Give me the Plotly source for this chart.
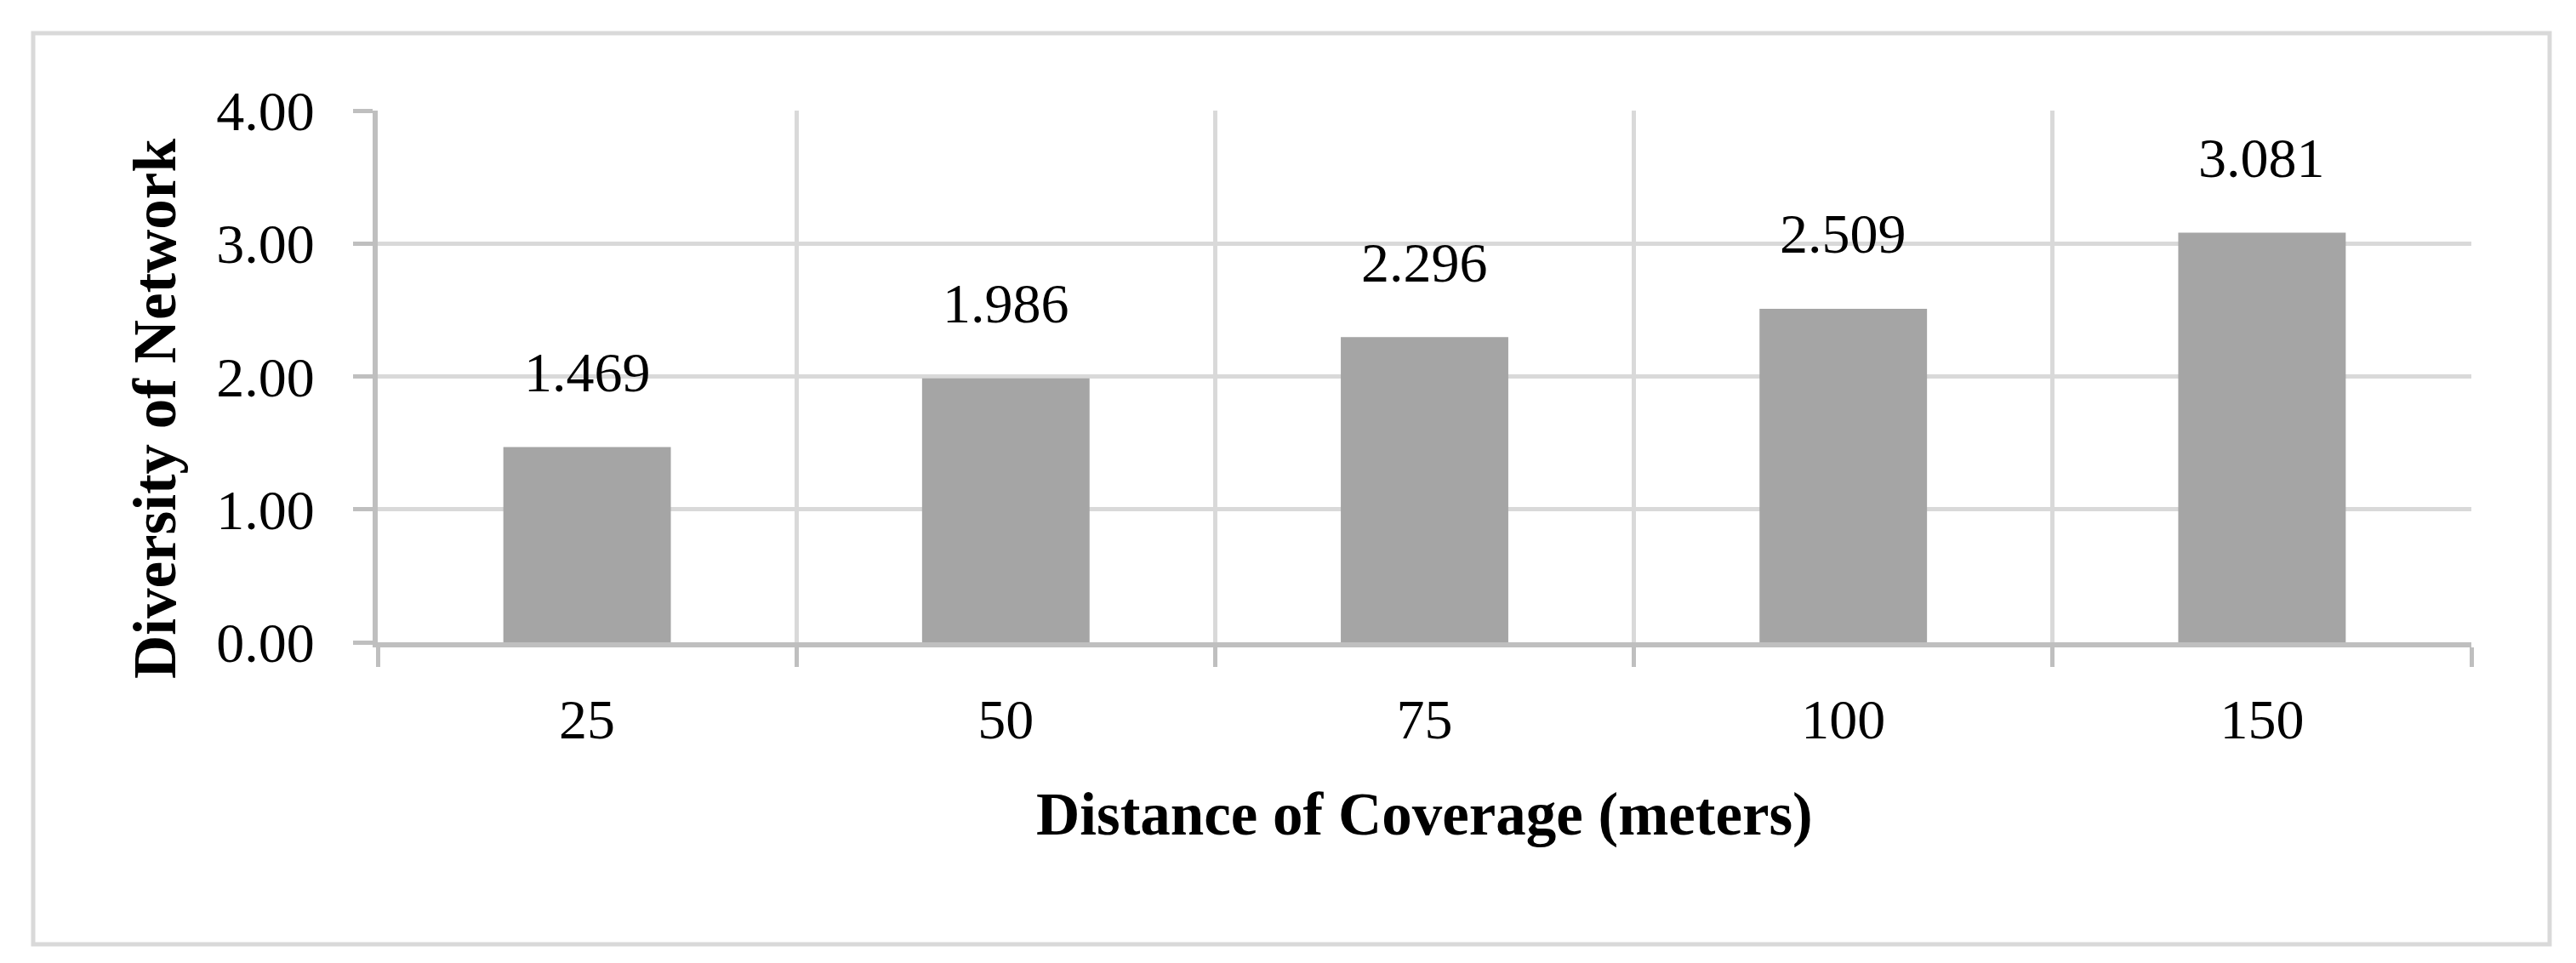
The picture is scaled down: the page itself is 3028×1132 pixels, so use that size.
import plotly.graph_objects as go

categories = ["25", "50", "75", "100", "150"]
diversity = [1.469, 1.986, 2.296, 2.509, 3.081]
y_ticks = [0, 1, 2, 3, 4]
y_tick_labels = ["0.00", "1.00", "2.00", "3.00", "4.00"]

W, H = 3028, 1132
L, R, T, B = 436, 131, 122, 385
FONT = "Liberation Serif"
GRID = "#d9d9d9"
AXIS = "#bfbfbf"
TICK_FS = 66
TITLE_FS = 71

pw = W - L - R
ph = H - T - B
def px_x(p):
    return (p - L) / pw
def px_y(p):
    return (H - B - p) / ph

xpos = list(range(len(categories)))

fig = go.Figure()
fig.add_trace(go.Bar(
    x=xpos, y=diversity,
    marker=dict(color="#a5a5a5", line=dict(width=0)),
    width=0.4,
    hoverinfo="y",
))

for xi, v in zip(xpos, diversity):
    fig.add_annotation(x=xi, y=v, text=f"{v:.3f}", showarrow=False,
                       yshift=88, yanchor="middle", xanchor="center",
                       font=dict(family=FONT, size=TICK_FS, color="black"))

# axis titles
fig.add_annotation(xref="paper", yref="paper", x=px_x(174), y=px_y(473),
                   text="<b>Diversity of Network</b>", textangle=-90,
                   showarrow=False, xanchor="center", yanchor="middle",
                   font=dict(family=FONT, size=TITLE_FS, color="black"))
fig.add_annotation(xref="paper", yref="paper", x=0.5, y=px_y(949),
                   text="<b>Distance of Coverage (meters)</b>",
                   showarrow=False, xanchor="center", yanchor="middle",
                   font=dict(family=FONT, size=TITLE_FS, color="black"))

# chart-area border
fig.add_shape(type="rect", xref="paper", yref="paper",
              x0=px_x(31), x1=px_x(2989), y0=px_y(1102), y1=px_y(31),
              line=dict(color=GRID, width=5), fillcolor="rgba(0,0,0,0)", layer="below")

fig.update_layout(
    width=W, height=H, autosize=False,
    margin=dict(l=L, r=R, t=T, b=B, pad=0),
    paper_bgcolor="white", plot_bgcolor="white",
    showlegend=False,
    font=dict(family=FONT, size=TICK_FS, color="black"),
    xaxis=dict(
        tickmode="array", tickvals=xpos, ticktext=categories,
        range=[-0.5, len(categories) - 0.5],
        showgrid=False, zeroline=False,
        showline=True, linecolor=AXIS, linewidth=6,
        ticks="",
        ticklabelstandoff=28,
        tickfont=dict(family=FONT, size=TICK_FS, color="black"),
        minor=dict(tickvals=[i - 0.5 for i in range(len(categories) + 1)],
                   showgrid=True, gridcolor=GRID, gridwidth=5,
                   ticks="outside", ticklen=23, tickwidth=5, tickcolor=AXIS),
    ),
    yaxis=dict(
        range=[0, 4], tickvals=y_ticks, ticktext=y_tick_labels,
        showgrid=True, gridcolor=GRID, gridwidth=5,
        showline=True, linecolor=AXIS, linewidth=6,
        zeroline=False,
        ticks="outside", ticklen=23, tickwidth=5, tickcolor=AXIS,
        ticklabelstandoff=32,
        tickfont=dict(family=FONT, size=TICK_FS, color="black"),
    ),
)

fig.write_html("out.html")
